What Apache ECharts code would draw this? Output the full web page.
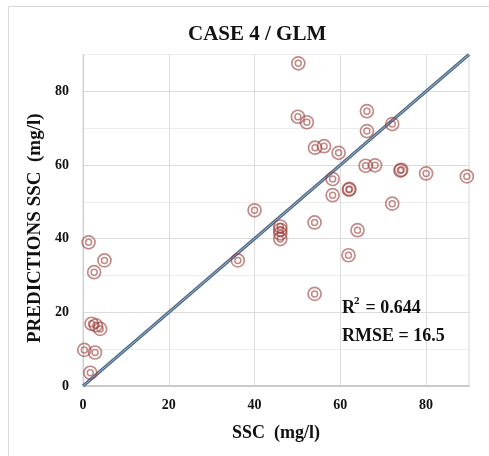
<!DOCTYPE html>
<html>
<head>
<meta charset="utf-8">
<script src="https://cdn.jsdelivr.net/npm/echarts@6/dist/echarts.min.js"></script>
<style>
html,body{margin:0;padding:0;background:#fff;}
#chart{width:489px;height:456px;}
</style>
</head>
<body>
<div id="chart"></div>
<script>
// Observed SSC (mg/l)
const sscObserved = [
  50.2, 50.1, 52.2, 54.1, 56.2, 59.6, 66.2, 66.2, 72.1,
  65.9, 68.1, 74.0, 74.2, 80.0, 89.5, 58.2, 58.2, 62.0, 62.1, 72.1,
  40.0, 46.0, 46.0, 46.0, 46.0, 54.0, 64.0, 61.9, 36.1, 54.0,
  1.3, 5.0, 2.6, 2.0, 3.0, 4.0, 0.3, 2.8, 1.7
];
// GLM predicted SSC (mg/l)
const sscPredicted = [
  87.6, 73.1, 71.6, 64.7, 65.1, 63.3, 74.6, 69.2, 71.1,
  59.8, 59.9, 58.5, 58.7, 57.7, 56.9, 56.2, 51.8, 53.3, 53.5, 49.5,
  47.7, 43.3, 42.4, 41.4, 39.9, 44.4, 42.3, 35.5, 34.1, 25.0,
  39.0, 34.1, 30.9, 16.9, 16.5, 15.5, 9.8, 9.1, 3.6
];
// 1:1 reference line
const lineX = [0, 90];
const lineY = [0, 90];
const tickLabels = [0, 20, 40, 60, 80];
const statsText = ['R', '2', ' = 0.644', 'RMSE = 16.5'];

const points = sscObserved.map((v, i) => [v, sscPredicted[i]]);
const linePts = lineX.map((v, i) => [v, lineY[i]]);

const serif = '"Liberation Serif", "DejaVu Serif", serif';
const ringColor = 'rgba(155,58,54,0.75)';

const chart = echarts.init(document.getElementById('chart'), null, {renderer: 'canvas'});
chart.setOption({
  animation: false,
  backgroundColor: '#fff',
  title: {
    text: 'CASE 4 / GLM',
    left: 183, top: 19,
    textStyle: {fontFamily: serif, fontSize: 21, fontWeight: 'bold', color: '#111'}
  },
  graphic: [
    {type: 'rect', shape: {x: 8.5, y: 6.5, width: 600, height: 600},
     style: {fill: 'none', stroke: '#d9d9d9', lineWidth: 1}, silent: true, z: -10},
    {type: 'group', left: 342, top: 296, z: 100, children: [
      {type: 'text', x: 0, y: 0, z: 100, style: {text: statsText[0], font: 'bold 18px ' + serif, fill: '#111'}},
      {type: 'text', x: 12, y: -3, z: 100, style: {text: statsText[1], font: 'bold 11px ' + serif, fill: '#111'}},
      {type: 'text', x: 19, y: 0, z: 100, style: {text: statsText[2], font: 'bold 18px ' + serif, fill: '#111'}},
      {type: 'text', x: 0, y: 28, z: 100, style: {text: statsText[3], font: 'bold 18px ' + serif, fill: '#111'}}
    ]}
  ],
  grid: {left: 83, right: 20, top: 54.5, bottom: 70, show: true, borderColor: '#d3d7de', borderWidth: 1},
  xAxis: {
    type: 'value', min: 0, max: 90, interval: 10,
    name: 'SSC  (mg/l)', nameLocation: 'middle', nameGap: 38,
    nameTextStyle: {fontFamily: serif, fontSize: 18, fontWeight: 'bold', color: '#111'},
    axisLine: {show: true, lineStyle: {color: '#bfc3ca', width: 1.5}},
    axisTick: {show: false},
    axisLabel: {interval: 0, margin: 12, fontFamily: serif, fontSize: 14, fontWeight: 'bold', color: '#111',
      formatter: v => tickLabels.indexOf(v) >= 0 ? String(v) : ''},
    splitLine: {show: true, lineStyle: {color: ['#dcdcdc', 'rgba(0,0,0,0)'], width: 1}}
  },
  yAxis: {
    type: 'value', min: 0, max: 90, interval: 10,
    name: 'PREDICTIONS SSC  (mg/l)', nameLocation: 'middle', nameGap: 37,
    nameTextStyle: {fontFamily: serif, fontSize: 19, fontWeight: 'bold', color: '#111', padding: [0, 16, 0, 0]},
    axisLine: {show: true, lineStyle: {color: '#c8cdd6', width: 1}},
    axisTick: {show: false},
    axisLabel: {interval: 0, margin: 14, fontFamily: serif, fontSize: 14, fontWeight: 'bold', color: '#111',
      formatter: v => tickLabels.indexOf(v) >= 0 ? String(v) : ''},
    splitLine: {show: true, lineStyle: {color: ['#dcdcdc', '#ededed'], width: 1}}
  },
  series: [
    {type: 'line', data: linePts, symbol: 'none', silent: true, z: 3,
     lineStyle: {color: '#4e6a88', width: 3.2}},
    {type: 'line', data: linePts, symbol: 'none', silent: true, z: 4,
     lineStyle: {color: '#a9bdd1', width: 0.9}},
    {type: 'scatter', data: points, symbol: 'circle', symbolSize: 13, z: 5,
     itemStyle: {color: 'rgba(0,0,0,0)', borderColor: ringColor, borderWidth: 1.7}},
    {type: 'scatter', data: points, symbol: 'circle', symbolSize: 6, z: 6,
     itemStyle: {color: 'rgba(0,0,0,0)', borderColor: ringColor, borderWidth: 1.5}}
  ]
});
</script>
</body>
</html>
